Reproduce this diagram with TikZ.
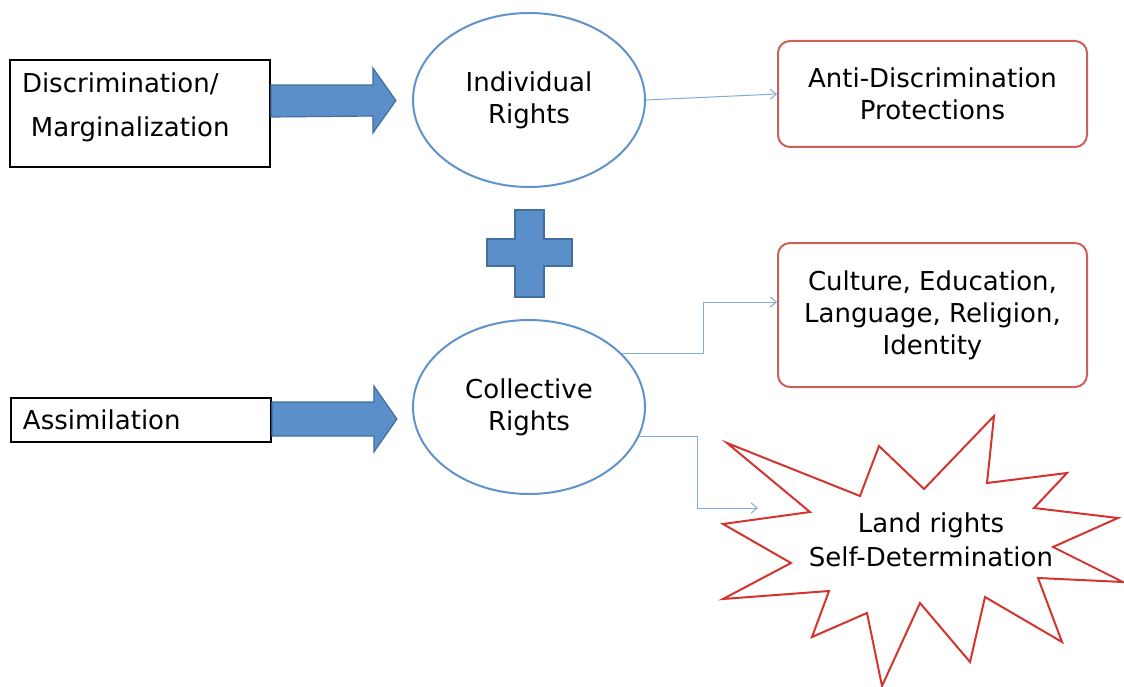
\documentclass[tikz,border=0pt]{standalone}
\usepackage{fontspec}
\setmainfont{DejaVu Sans}
\usetikzlibrary{shapes.geometric, arrows.meta}

\definecolor{arrowblue}{RGB}{91,143,201}
\definecolor{arrowedge}{RGB}{66,110,160}
\definecolor{ellblue}{RGB}{96,146,204}
\definecolor{linkblue}{RGB}{130,170,218}
\definecolor{boxred}{RGB}{206,96,90}
\definecolor{burstred}{RGB}{212,52,46}

\newcommand{\diagfont}{\fontsize{26}{32}\selectfont}

\begin{document}
\begin{tikzpicture}[x=1pt, y=-1pt, >={Straight Barb[length=6pt, width=10pt]}]

% Styles
\tikzset{
  cause/.style={draw=black, line width=1.8pt, minimum width=260pt, inner xsep=12pt,
    text width=236pt, align=left, font=\diagfont},
  rights/.style={ellipse, draw=ellblue, line width=2pt, minimum width=232pt,
    minimum height=174pt, inner sep=0pt, align=center, font=\diagfont},
  outcome/.style={draw=boxred, line width=2pt, rounded corners=12pt,
    minimum width=309pt, align=center, font=\diagfont},
  blockarrow/.style={fill=arrowblue, draw=arrowedge, line width=1.2pt},
  burst/.style={draw=burstred, line width=2pt, line join=miter},
  link/.style={draw=linkblue, line width=1pt, ->}
}

\useasboundingbox (0,0) rectangle (1124,687);

% Left boxes
\node[cause, minimum height=107pt, text depth=61pt] (disc) at (140,113.5)
  {Discrimination/\\[12pt]\hspace*{9pt}Marginalization};
\node[cause, minimum height=44pt] (assim) at (141,420) {Assimilation};

% Rights
\node[rights] (indiv) at (529,100) {Individual\\Rights};
\node[rights] (coll) at (529,407) {Collective\\Rights};

% Outcomes
\node[outcome, minimum height=106pt] (anti) at (932.5,94)
  {Anti-Discrimination\\Protections};
\node[outcome, minimum height=144pt] (culture) at (932.5,315)
  {Culture, Education,\\Language, Religion,\\Identity};

% Block arrows
\draw[blockarrow] (disc.east |- 0,85) -- ++(102,0) -- ++(0,-17) -- ++(23,32.5)
  -- ++(-23,32.5) -- ++(0,-17) -- (disc.east |- 0,117) -- cycle;
\draw[blockarrow] (assim.east |- 0,402) -- ++(102,0) -- ++(0,-16) -- ++(23,33)
  -- ++(-23,33) -- ++(0,-16) -- (assim.east |- 0,436) -- cycle;

% Plus sign
\draw[blockarrow] (515,210) -- (544,210) -- (544,239) -- (572,239) -- (572,266)
  -- (544,266) -- (544,297) -- (515,297) -- (515,266) -- (487,266)
  -- (487,239) -- (515,239) -- cycle;

% Starburst
\draw[burst] (727,443) -- (860,496) -- (879,446) -- (924,489) -- (994,416)
  -- (987,483) -- (1067,473) -- (1034,508) -- (1118,518) -- (1053,547)
  -- (1123,582) -- (1038,578) -- (1062,642) -- (985,597) -- (970,662)
  -- (920,603) -- (882,686) -- (867,613) -- (812,637) -- (829,591)
  -- (723,599) -- (791,563) -- (723,524) -- (810,512) -- cycle;
\node[font=\diagfont, align=center, inner sep=0pt] (land) at (931,540)
  {Land rights\\[2pt]Self-Determination};

% Connectors
\coordinate (bendA) at (703,0);
\coordinate (bendB) at (697,0);
\coordinate (burstin) at (758,508);

\draw[link] (indiv.east) -- (anti.west);
\draw[link] (coll.30) -- (coll.30 -| bendA) |- ([yshift=13pt]culture.west);
\draw[link] (coll.-15) -- (coll.-15 -| bendB) |- (burstin);

\end{tikzpicture}
\end{document}
